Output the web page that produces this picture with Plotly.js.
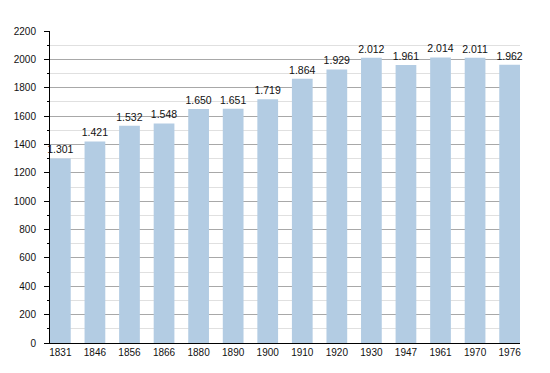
<!DOCTYPE html>
<html>
<head>
<meta charset="utf-8">
<script src="https://cdn.plot.ly/plotly-3.0.1.min.js"></script>
<style>html,body{margin:0;padding:0;background:#fff;}#chart{width:550px;height:373px;}</style>
</head>
<body>
<div id="chart"></div>
<script>
const years = ["1831","1846","1856","1866","1880","1890","1900","1910","1920","1930","1947","1961","1970","1976"];
const population = [1301,1421,1532,1548,1650,1651,1719,1864,1929,2012,1961,2014,2011,1962];
const valueLabels = ["1.301","1.421","1.532","1.548","1.650","1.651","1.719","1.864","1.929","2.012","1.961","2.014","2.011","1.962"];

const font = "Liberation Sans, Arial, Helvetica, sans-serif";
Plotly.newPlot("chart", [{
  type: "bar",
  x: years,
  y: population,
  text: valueLabels,
  textposition: "outside",
  constraintext: "none",
  cliponaxis: false,
  textfont: {family: font, size: 10.5, color: "#111"},
  marker: {color: "#b3cce3"},
  width: 0.6,
  hoverinfo: "x+y"
}], {
  width: 550, height: 373,
  margin: {l: 50, r: 30, t: 31, b: 30},
  paper_bgcolor: "#fff", plot_bgcolor: "#fff",
  showlegend: false,
  font: {family: font, size: 10, color: "#111"},
  xaxis: {
    type: "category",
    range: [-0.3, 13.3],
    showgrid: false,
    showline: true, linecolor: "#000", linewidth: 1,
    ticks: "",
    tickfont: {family: font, size: 10, color: "#111"},
    zeroline: false
  },
  yaxis: {
    range: [0, 2200],
    dtick: 200,
    tick0: 0,
    showgrid: true, gridcolor: "#a8a8a8", gridwidth: 1,
    showline: true, linecolor: "#000", linewidth: 1,
    ticks: "outside", ticklen: 5, tickcolor: "#000", tickwidth: 1,
    ticklabelstandoff: 6,
    tickfont: {family: font, size: 10, color: "#111"},
    zeroline: false,
    minor: {dtick: 100, showgrid: true, gridcolor: "#e0e0e0", gridwidth: 1, ticks: "outside", ticklen: 2, tickcolor: "#000"}
  }
}, {staticPlot: true});
</script>
</body>
</html>
